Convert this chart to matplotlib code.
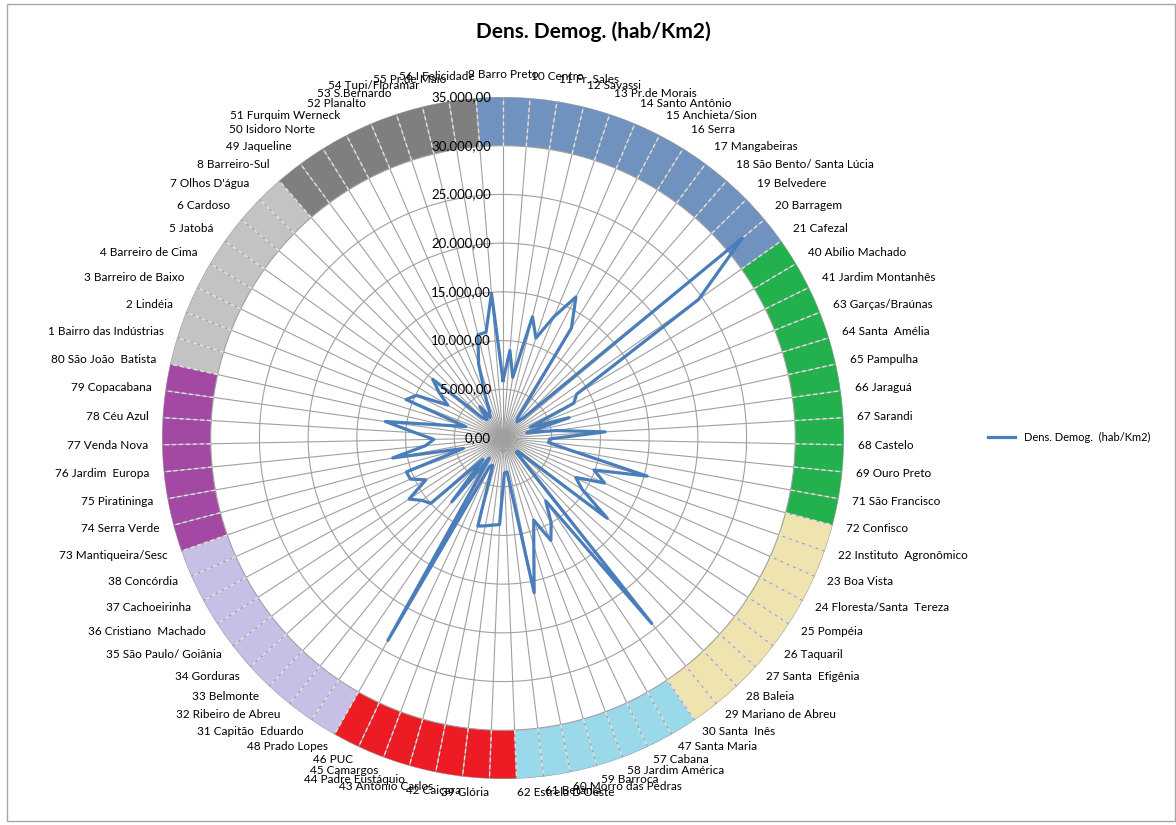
import numpy as np
import matplotlib
matplotlib.use('Agg')
import matplotlib.pyplot as plt
from matplotlib.transforms import offset_copy
from matplotlib.patches import Rectangle

plt.rcParams['font.family'] = ['Lato', 'DejaVu Sans']

# bairros in the order they go round the radar (clockwise from the top)
bairros = [
    '9 Barro Preto', '10 Centro', '11 Fr. Sales', '12 Savassi', '13 Pr.de Morais',
    '14 Santo Antônio', '15 Anchieta/Sion', '16 Serra', '17 Mangabeiras',
    '18 São Bento/ Santa Lúcia', '19 Belvedere', '20 Barragem', '21 Cafezal',
    '40 Abílio Machado', '41 Jardim Montanhês', '63 Garças/Braúnas', '64 Santa  Amélia',
    '65 Pampulha', '66 Jaraguá', '67 Sarandi', '68 Castelo', '69 Ouro Preto',
    '71 São Francisco', '72 Confisco', '22 Instituto  Agronômico', '23 Boa Vista',
    '24 Floresta/Santa  Tereza', '25 Pompéia', '26 Taquaril', '27 Santa  Efigênia',
    '28 Baleia', '29 Mariano de Abreu', '30 Santa  Inês', '47 Santa Maria', '57 Cabana',
    '58 Jardim América', '59 Barroca', '60 Morro das Pedras', '61 Betânia',
    "62 Estrela D'Oeste", '39 Glória', '42 Caiçara', '43 Antônio Carlos',
    '44 Padre Eustáquio', '45 Camargos', '46 PUC', '48 Prado Lopes',
    '31 Capitão  Eduardo', '32 Ribeiro de Abreu', '33 Belmonte', '34 Gorduras',
    '35 São Paulo/ Goiânia', '36 Cristiano  Machado', '37 Cachoeirinha', '38 Concórdia',
    '73 Mantiqueira/Sesc', '74 Serra Verde', '75 Piratininga', '76 Jardim  Europa',
    '77 Venda Nova', '78 Céu Azul', '79 Copacabana', '80 São João  Batista',
    '1 Bairro das Indústrias', '2 Lindéia', '3 Barreiro de Baixo', '4 Barreiro de Cima',
    '5 Jatobá', '6 Cardoso', "7 Olhos D'água", '8 Barreiro-Sul', '49 Jaqueline',
    '50 Isidoro Norte', '51 Furquim Werneck', '52 Planalto', '53 S.Bernardo',
    '54 Tupi/Floramar', '55 Pr.de Maio', '56 I Felicidade',
]

# densidade demografica (hab/km2)
densidade = [
    5900, 9000, 6300, 12800, 10800, 13500, 16300, 13300, 2500, 2200,
    2900, 32000, 24600, 8800, 8100, 3000, 7100, 2500, 5500, 10500,
    4800, 4700, 7000, 15300, 9900, 11400, 8500, 9700, 13500, 2000,
    2000, 24400, 7800, 10000, 11600, 9000, 11500, 16200, 3500, 3600,
    8900, 9000, 9200, 9400, 3000, 3200, 23900, 2500, 8400, 3000,
    10000, 10500, 11500, 9000, 10400, 10500, 4200, 11500, 8000, 7100,
    9000, 12200, 6000, 4000, 10700, 9900, 6600, 8000, 9400, 3000,
    2500, 4000, 2500, 3000, 4700, 8000, 10900, 11000, 14900,
]

# regions of the outer ring: colour and number of bairros in each
cores_regiao = ['#7092BE', '#22B14C', '#EFE4B0', '#99D9EA', '#ED1C24',
                '#C8BFE7', '#A349A4', '#C3C3C3', '#7F7F7F']
tamanho_regiao = [13, 11, 9, 7, 7, 9, 7, 8, 8]

escala = [0, 5000, 10000, 15000, 20000, 25000, 30000, 35000]


def formata(v):
    s = '{:,.2f}'.format(v)
    return s.replace(',', 'X').replace('.', ',').replace('X', '.')


W, H = 1176, 825
cx, cy, R = 503, 438, 341

fig = plt.figure(figsize=(W / 100, H / 100), dpi=100)
ax = fig.add_axes([(cx - R) / W, (H - cy - R) / H, 2 * R / W, 2 * R / H],
                  projection='polar')
ax.set_theta_zero_location('N')
ax.set_theta_direction(-1)
ax.set_ylim(0, escala[-1])
ax.set_xticks([])
ax.set_yticks([])
ax.grid(False)
ax.spines['polar'].set_visible(False)

n = len(bairros)
passo = 2 * np.pi / n
theta = np.arange(n) * passo

# outer ring coloured by region
cores = np.repeat(cores_regiao, tamanho_regiao)
ax.bar(theta - passo / 2, escala[-1] - escala[-2], width=passo, bottom=escala[-2],
       color=cores, edgecolor='none', zorder=1)

# grid: spokes and circles
for t in theta:
    ax.plot([t, t], [0, escala[-1]], color='#A0A0A0', lw=0.8, zorder=2)
    ax.plot([t, t], [escala[-2], escala[-1]], color='white', lw=1.0,
            ls=(0, (3, 2)), alpha=0.7, zorder=3)
circ = np.linspace(0, 2 * np.pi, 500)
for r in escala[1:]:
    ax.plot(circ, np.full_like(circ, r), color='#A0A0A0', lw=0.8, zorder=2)

# the data line
ax.plot(np.append(theta, theta[0]), np.append(densidade, densidade[0]),
        color='#4A7EBB', lw=2.3, zorder=5, label='Dens. Demog.  (hab/Km2)')

# value labels along the vertical axis
for v in escala:
    ax.text(0, v, formata(v), fontsize=9.5, ha='right', va='center', zorder=6,
            transform=offset_copy(ax.transData, fig, x=-12, y=0, units='dots'))

# bairro names round the outside
for t, nome in zip(theta, bairros):
    s, c = np.sin(t), np.cos(t)
    dx = 14 * s
    dy = 14 * c + (8 * c if c > 0 else 0)
    if abs(s) < 0.02:
        ha = 'center'
    elif s > 0:
        ha = 'left'
    else:
        ha = 'right'
    ax.text(t, escala[-1], nome, fontsize=8.5, ha=ha, va='center',
            transform=offset_copy(ax.transData, fig, x=dx, y=dy, units='dots'))

fig.text(593 / W, 1 - 32 / H, 'Dens. Demog. (hab/Km2)', ha='center', va='center',
         fontsize=15, fontweight='bold')

fig.legend(loc='center left', bbox_to_anchor=(978 / W, 1 - 437 / H), frameon=False,
           fontsize=8, handlelength=2.4)

fig.patches.append(Rectangle((7 / W, 4 / H), 1168 / W, 817 / H, transform=fig.transFigure,
                             fill=False, edgecolor='#A6A6A6', lw=1))

fig.savefig('out.png', dpi=100, facecolor='white')
